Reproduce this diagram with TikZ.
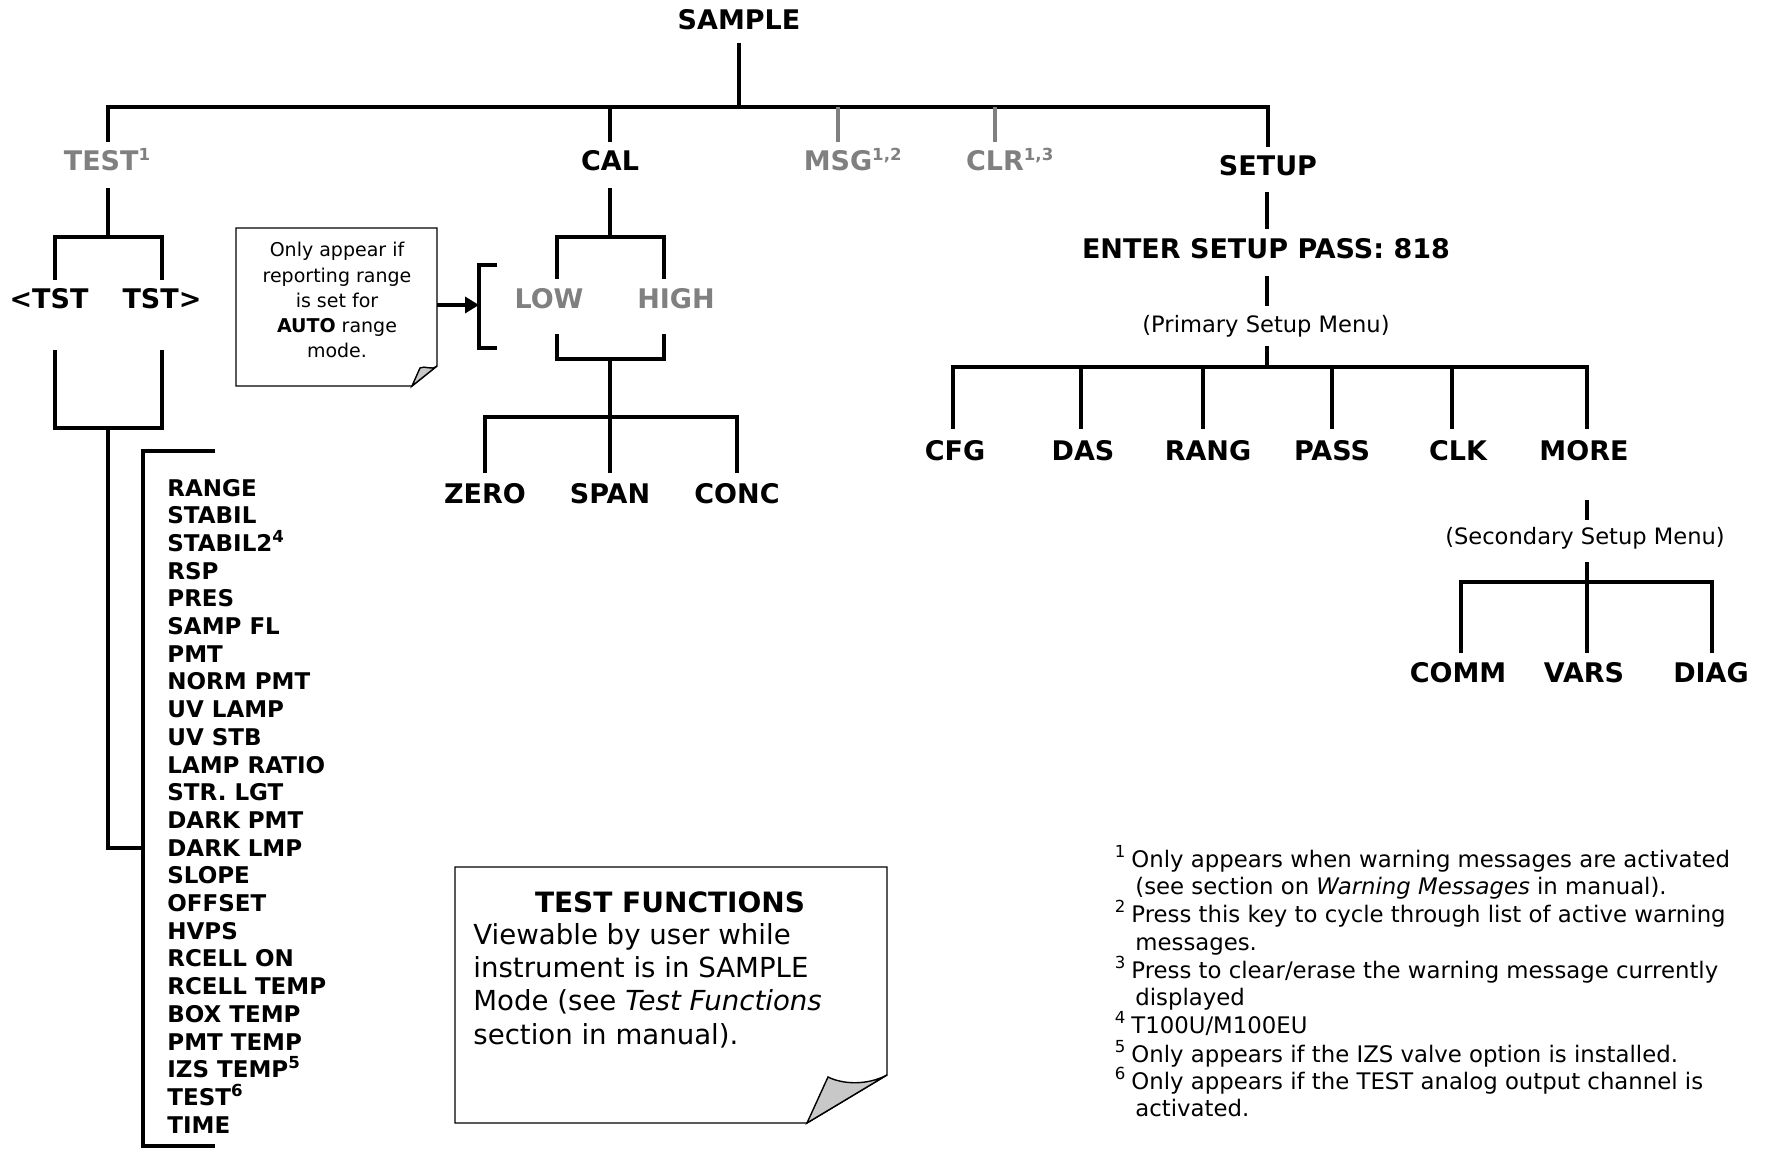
\documentclass[tikz,border=0pt]{standalone}
\usepackage{fontspec}
\setmainfont{DejaVu Sans}
\usetikzlibrary{arrows.meta}
\definecolor{greytext}{RGB}{128,128,128}
\definecolor{foldgrey}{RGB}{200,200,200}
\newcommand{\supr}[1]{\raisebox{0.40em}{\fontsize{8.3}{9}\selectfont #1}}
\begin{document}
\begin{tikzpicture}[x=0.5pt,y=-0.5pt,
  lbl/.style={anchor=base, font=\fontsize{13.5}{16}\selectfont\bfseries, inner sep=0pt},
  glbl/.style={lbl, text=greytext},
  item/.style={anchor=base west, font=\fontsize{11.5}{14}\selectfont\bfseries, inner sep=0pt},
  menu/.style={anchor=base, font=\fontsize{11.3}{14}\selectfont, inner sep=0pt},
  fn/.style={anchor=base west, font=\fontsize{11.4}{14}\selectfont, inner sep=0pt},
  tree/.style={line width=2.2pt},
  gtree/.style={line width=1.7pt, draw=greytext},
  brk/.style={line width=1.6pt},
  box/.style={line width=0.7pt},
  fold/.style={line width=0.7pt, fill=foldgrey},
  ]
\useasboundingbox (0,0) rectangle (1769,1150);

% ---------- top level ----------
\node[lbl] (sample) at (739,30) {SAMPLE};
\node[glbl] (test) at (107,171) {TEST\supr{1}};
\node[lbl] (cal) at (610,171) {CAL};
\node[glbl] (msg) at (838,171) {MSG\rlap{\supr{1,2}}};
\node[glbl] (clr) at (995,171) {CLR\rlap{\supr{1,3}}};
\node[lbl] (setup) at (1268,176) {SETUP};

\coordinate (busL) at (108,107);
\coordinate (busR) at (1268,107);
\draw[tree] (739,43) -- (739,107);
\draw[tree] ([xshift=-1pt]busL) -- ([xshift=1pt]busR);
\draw[tree] (busL) -- (108,142);
\draw[tree] (610,107) -- (610,142);
\draw[gtree] (838,107) -- (838,142);
\draw[gtree] (995,107) -- (995,142);
\draw[tree] (busR) -- (1268,147);

% ---------- TEST branch ----------
\node[lbl] (ltst) at (49,309) {<TST};
\node[lbl] (rtst) at (162,309) {TST>};
\draw[tree] (108,188) -- (108,237);
\draw[tree] (55,280) -- (55,237) -- (162,237) -- (162,280);
\draw[tree] (55,350) -- (55,428) -- (162,428) -- (162,350);
\draw[tree] (108,428) -- (108,848) -- (143,848);
\draw[tree] (215,451) -- (143,451) -- (143,1146) -- (215,1146);

\foreach \t [count=\i from 0] in {RANGE,STABIL,STABIL2\supr{4},RSP,PRES,SAMP FL,PMT,NORM PMT,UV LAMP,UV STB,LAMP RATIO,STR. LGT,DARK PMT,DARK LMP,SLOPE,OFFSET,HVPS,RCELL ON,RCELL TEMP,BOX TEMP,PMT TEMP,IZS TEMP\supr{5},TEST\supr{6},TIME}
  \node[item] (item\i) at (167,{496+\i*27.7}) {\t};

% ---------- note box (AUTO range) ----------
\draw[box] (236,228) -- (437,228) -- (437,366) -- (412,386) -- (236,386) -- cycle;
\filldraw[fold] (437,366) .. controls (431,371) and (425,365) .. (420,368) -- (412,386) -- cycle;
\node[anchor=north, align=center, inner sep=0pt, font=\fontsize{9.5}{12.6}\selectfont] (note1) at (337,242)
  {Only appear if\\reporting range\\is set for\\\textbf{AUTO} range\\mode.};
\draw[line width=1.8pt, -{Triangle[length=7pt,width=8pt]}] (437,305) -- (479,305);
\draw[brk] (497,265) -- (479,265) -- (479,348) -- (497,348);

% ---------- CAL branch ----------
\node[glbl] (low) at (549,309) {LOW};
\node[glbl] (high) at (676,309) {HIGH};
\draw[tree] (610,188) -- (610,237);
\draw[tree] (557,279) -- (557,237) -- (664,237) -- (664,279);
\draw[tree] (557,334) -- (557,359) -- (664,359) -- (664,334);
\draw[tree] (610,359) -- (610,473);
\draw[tree] (485,473) -- (485,417) -- (737,417) -- (737,473);
\node[lbl] (zero) at (485,503) {ZERO};
\node[lbl] (span) at (610,503) {SPAN};
\node[lbl] (conc) at (737,503) {CONC};

% ---------- SETUP branch ----------
\draw[tree] (1267,192) -- (1267,229);
\node[lbl] (pass) at (1266,259) {ENTER SETUP PASS: 818};
\draw[tree] (1267,276) -- (1267,306);
\node[menu] (prim) at (1266,333) {(Primary Setup Menu)};
\draw[tree] (1267,346) -- (1267,367);
\draw[tree] (953,429) -- (953,367) -- (1587,367) -- (1587,429);
\foreach \x in {1081,1203,1332,1452} \draw[tree] (\x,367) -- (\x,429);
\node[lbl] (cfg) at (955,460) {CFG};
\node[lbl] (das) at (1083,460) {DAS};
\node[lbl] (rang) at (1208,460) {RANG};
\node[lbl] (passk) at (1332,460) {PASS};
\node[lbl] (clk) at (1458,460) {CLK};
\node[lbl] (more) at (1584,460) {MORE};
\draw[tree] (1587,500) -- (1587,520);
\node[menu] (sec) at (1585,545) {(Secondary Setup Menu)};
\draw[tree] (1587,562) -- (1587,653);
\draw[tree] (1461,653) -- (1461,582) -- (1712,582) -- (1712,653);
\node[lbl] (comm) at (1458,682) {COMM};
\node[lbl] (vars) at (1584,682) {VARS};
\node[lbl] (diag) at (1711,682) {DIAG};

% ---------- TEST FUNCTIONS box ----------
\draw[box] (455,867) -- (887,867) -- (887,1075) -- (807,1123) -- (455,1123) -- cycle;
\filldraw[fold] (887,1075) .. controls (866,1086) and (842,1084) .. (828,1077) -- (807,1123) -- cycle;
\node[anchor=base, inner sep=0pt, font=\fontsize{14}{16}\selectfont\bfseries] (tfhead) at (670,912) {TEST FUNCTIONS};
\node[anchor=north west, align=left, inner sep=0pt, font=\fontsize{13.8}{16.65}\selectfont] (tfbody) at (473,923)
  {Viewable by user while\\instrument is in SAMPLE\\Mode (see \textit{Test Functions}\\section in manual).};

% ---------- footnotes ----------
\node[fn] (f1) at (1131,867) {\llap{\supr{1}\hspace{3pt}}Only appears when warning messages are activated};
\node[fn] (f1b) at (1135,894) {(see section on \textit{Warning Messages} in manual).};
\node[fn] (f2) at (1131,922) {\llap{\supr{2}\hspace{3pt}}Press this key to cycle through list of active warning};
\node[fn] (f2b) at (1135,950) {messages.};
\node[fn] (f3) at (1131,978) {\llap{\supr{3}\hspace{3pt}}Press to clear/erase the warning message currently};
\node[fn] (f3b) at (1135,1005) {displayed};
\node[fn] (f4) at (1131,1033) {\llap{\supr{4}\hspace{3pt}}T100U/M100EU};
\node[fn] (f5) at (1131,1062) {\llap{\supr{5}\hspace{3pt}}Only appears if the IZS valve option is installed.};
\node[fn] (f6) at (1131,1089) {\llap{\supr{6}\hspace{3pt}}Only appears if the TEST analog output channel is};
\node[fn] (f6b) at (1135,1116) {activated.};
\end{tikzpicture}
\end{document}
